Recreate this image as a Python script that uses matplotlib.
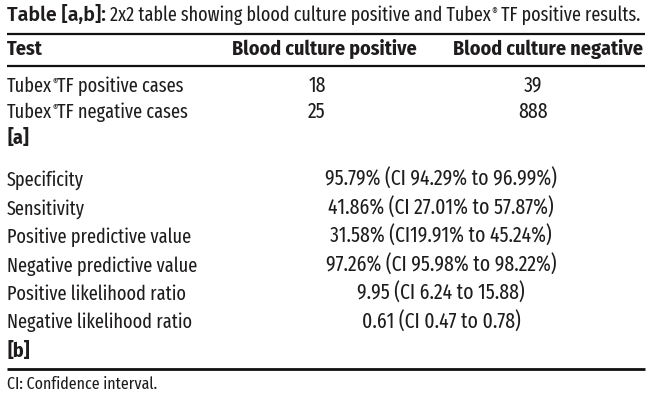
import matplotlib
matplotlib.use("Agg")
import matplotlib.pyplot as plt
from matplotlib import font_manager
from matplotlib.font_manager import FontProperties
import os

# ---- data ----
title_bold = "Table [a,b]:"
title_rest = [" 2x2 table showing blood culture positive and Tubex", "®", " TF positive results."]
col_headers = ["Test", "Blood culture positive", "Blood culture negative"]
row_labels_a = ["positive cases", "negative cases"]
bc_positive = ["18", "25"]
bc_negative = ["39", "888"]
label_a = "[a]"
metrics = ["Specificity", "Sensitivity", "Positive predictive value",
           "Negative predictive value", "Positive likelihood ratio",
           "Negative likelihood ratio"]
metric_values = ["95.79% (CI 94.29% to 96.99%)",
                 "41.86% (CI 27.01% to 57.87%)",
                 "31.58% (CI19.91% to 45.24%)",
                 "97.26% (CI 95.98% to 98.22%)",
                 "9.95 (CI 6.24 to 15.88)",
                 "0.61 (CI 0.47 to 0.78)"]
label_b = "[b]"
footnote = "CI: Confidence interval."

# ---- locate font files ----
files = [f.fname for f in font_manager.fontManager.ttflist]
bases = {os.path.basename(p).lower(): p for p in files}


def pick(*names):
    for n in names:
        if n in bases:
            return bases[n]
    return None


F_REG = pick("firasansextracondensed-regular.ttf", "firasanscondensed-regular.ttf",
             "dejavusanscondensed.ttf")
F_BOLD = pick("firasanscondensed-bold.ttf", "firasansextracondensed-bold.ttf",
              "dejavusanscondensed-bold.ttf")
F_TBOLD = pick("firasans-semibold.ttf", "firasans-bold.ttf",
               "firasanscondensed-bold.ttf", "dejavusans-bold.ttf")


def fp(size, kind="reg"):
    path = {"reg": F_REG, "bold": F_BOLD, "tbold": F_TBOLD}[kind]
    if path:
        return FontProperties(fname=path, size=size)
    return FontProperties(family="DejaVu Sans", size=size,
                          weight="normal" if kind == "reg" else "bold")


W, H = 650, 404
fig = plt.figure(figsize=(W / 100, H / 100), dpi=100)
fig.patch.set_facecolor("white")
ax = fig.add_axes([0, 0, 1, 1])
ax.set_xlim(0, W)
ax.set_ylim(H, 0)
ax.axis("off")

BODY = 14.3
TITLE = 14.2
BOLDSZ = 14.4
VAL = 15.4
FOOT = 12.5
COL = "#1e1c1d"
renderer = fig.canvas.get_renderer()


def txt(x, y, s, size=BODY, kind="reg", ha="left"):
    return ax.text(x, y, s, fontproperties=fp(size, kind), ha=ha,
                   va="baseline", color=COL)


def runs(x, y, parts):
    for s, size, kind, dy in parts:
        t = txt(x, y + dy, s, size, kind)
        x += t.get_window_extent(renderer=renderer).width
    return x


# Title
runs(7, 21, [(title_bold, TITLE, "tbold", 0),
             (title_rest[0], TITLE, "reg", 0),
             (title_rest[1], 8, "reg", -6),
             (title_rest[2], TITLE, "reg", 0)])

# rules
ax.plot([7, 645], [33.5, 33.5], color="#111111", lw=1.6, solid_capstyle="butt")
ax.plot([7, 645], [65.5, 65.5], color="#111111", lw=1.6, solid_capstyle="butt")
ax.plot([7, 645], [369, 369], color="#111111", lw=2.0, solid_capstyle="butt")

# header
hdr_y = 55
txt(7, hdr_y, col_headers[0], size=BOLDSZ, kind="bold")
txt(324, hdr_y, col_headers[1], size=BOLDSZ, kind="bold", ha="center")
txt(548, hdr_y, col_headers[2], size=BOLDSZ, kind="bold", ha="center")

# part a rows
row_y = [92, 118.5]
for i, y in enumerate(row_y):
    runs(7, y, [("Tubex", BODY, "reg", 0), ("®", 7, "reg", -7),
                ("TF " + row_labels_a[i], BODY, "reg", 0)])
    txt(317, y, bc_positive[i], size=VAL, ha="center")
    txt(533, y, bc_negative[i], size=VAL, ha="center")

txt(7, 144, label_a, size=BOLDSZ, kind="bold")

# part b rows
y0, dy = 186, 28.5
for i, (m, v) in enumerate(zip(metrics, metric_values)):
    y = y0 + i * dy
    txt(7, y, m)
    txt(441, y, v, size=VAL, ha="center")

txt(7, 357, label_b, size=BOLDSZ, kind="bold")
txt(7, 389, footnote, size=FOOT)

fig.savefig("out.png", dpi=100, facecolor="white")
